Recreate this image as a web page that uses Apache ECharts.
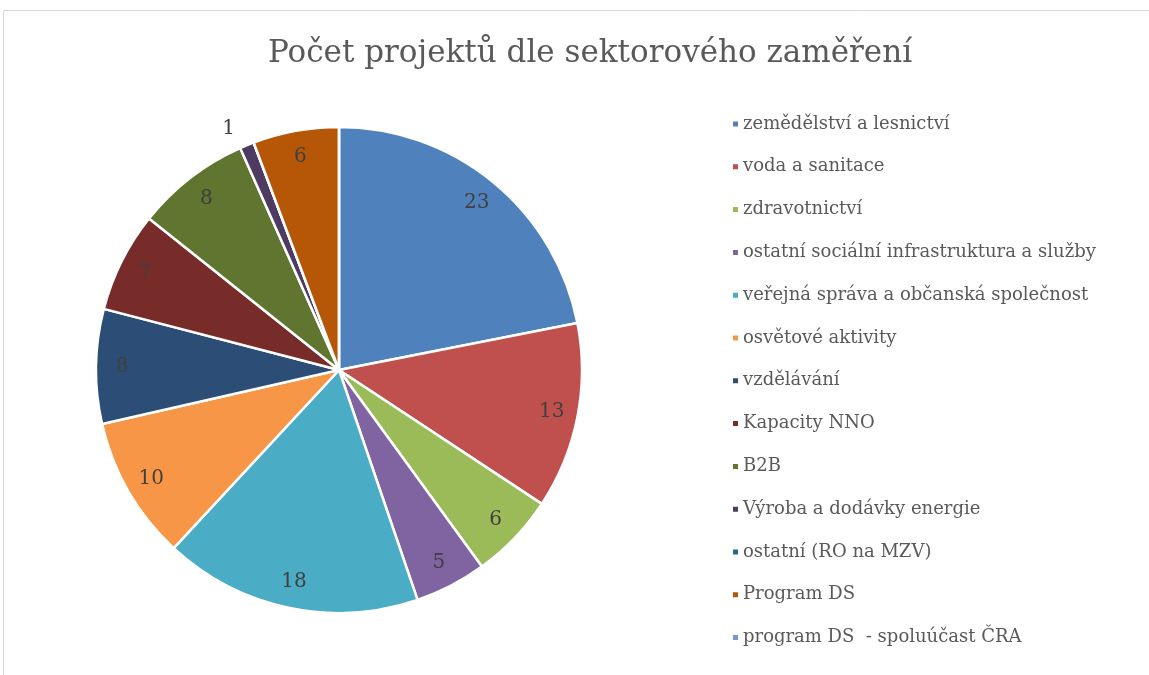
<!DOCTYPE html>
<html>
<head>
<meta charset="utf-8">
<script src="https://cdn.jsdelivr.net/npm/echarts@6/dist/echarts.min.js"></script>
<style>
  html, body { margin: 0; padding: 0; background: #fff; }
  #chart { width: 1149px; height: 675px; }
</style>
</head>
<body>
<div id="chart"></div>
<script>
const kategorie = [
    'zemědělství a lesnictví',
    'voda a sanitace',
    'zdravotnictví',
    'ostatní sociální infrastruktura a služby',
    'veřejná správa a občanská společnost',
    'osvětové aktivity',
    'vzdělávání',
    'Kapacity NNO',
    'B2B',
    'Výroba a dodávky energie',
    'ostatní (RO na MZV)',
    'Program DS',
    'program DS  - spoluúčast ČRA'
];
const pocty = [23, 13, 6, 5, 18, 10, 8, 7, 8, 1, 0, 6, 0];
const barvy = ['#4F81BD', '#C0504D', '#9BBB59', '#8064A2', '#4BACC6', '#F79646',
    '#2C4D75', '#772C2A', '#5F7530', '#4D3B62', '#276A7C', '#B65708', '#729ACA'];

const pismo = 'DejaVu Serif';
const stred = [339, 370];
const polomer = 243;

let chart = echarts.init(document.getElementById('chart'));

// data pro kolac
const data = kategorie.map((k, i) => ({ name: k, value: pocty[i] }));

// popisky - maly vysek dostane popisek venku
const dataPopisky = kategorie.map((k, i) => {
    let d = { name: k, value: pocty[i] };
    if (pocty[i] === 1) {
        d.label = { position: 'outside' };
        d.labelLine = { show: false, length: 18, length2: 0 };
    }
    return d;
});

const option = {
    color: barvy,
    title: {
        text: 'Počet projektů dle sektorového zaměření',
        left: 585,
        textAlign: 'center',
        top: 33,
        textStyle: {
            fontFamily: pismo,
            fontWeight: 'normal',
            fontSize: 31,
            color: '#595959'
        }
    },
    legend: {
        orient: 'vertical',
        left: 726,
        top: 110,
        itemWidth: 7,
        itemHeight: 7,
        itemGap: 24.8,
        icon: 'rect',
        textStyle: {
            fontFamily: pismo,
            fontSize: 18,
            color: '#595959',
            padding: [0, 0, 0, -1]
        },
        data: kategorie
    },
    graphic: [{
        type: 'polyline',
        shape: { points: [[3.5, 675], [3.5, 10.5], [1149, 10.5]] },
        style: { stroke: '#d9d9d9', lineWidth: 1, fill: null },
        silent: true
    }],
    series: [{
        name: 'kolac',
        type: 'pie',
        center: stred,
        radius: [0, polomer],
        startAngle: 90,
        clockwise: true,
        avoidLabelOverlap: false,
        label: { show: false },
        labelLine: { show: false },
        itemStyle: { borderColor: '#fff', borderWidth: 2.5 },
        emphasis: { disabled: true },
        data: data
    }, {
        name: 'popisky',
        type: 'pie',
        center: stred,
        radius: [polomer * 0.76, polomer],
        startAngle: 90,
        clockwise: true,
        silent: true,
        avoidLabelOverlap: false,
        itemStyle: { color: 'rgba(0,0,0,0)', borderWidth: 0 },
        label: {
            show: true,
            position: 'inside',
            fontFamily: pismo,
            fontSize: 20,
            color: '#404040',
            formatter: (p) => p.value === 0 ? '' : String(p.value)
        },
        labelLine: { show: false },
        emphasis: { disabled: true },
        data: dataPopisky
    }]
};

option && chart.setOption(option);
window.addEventListener('resize', chart.resize);
</script>
</body>
</html>
